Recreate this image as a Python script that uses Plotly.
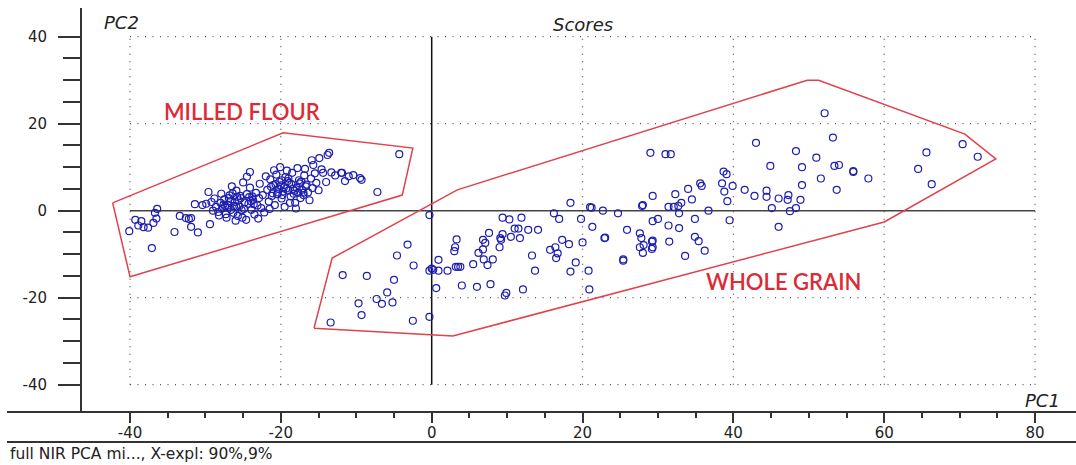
import plotly.graph_objects as go

# ---------------- data ----------------
milled_pc1 = [
    -40.1, -39.3, -38.9, -38.5, -38.2, -37.6, -37.1, -36.9, -36.7, -36.4, -36.5,
    -34.1, -33.4, -32.6, -32.2, -31.9, -31.9, -31.0, -29.4, -31.4, -30.4, -29.9,
    -29.6, -29.0, -28.6, -28.3, -28.0, -27.8, -27.5, -27.3, -27.0, -26.8, -26.6,
    -26.3, -26.1, -25.9, -25.7, -25.5, -25.3, -25.1, -24.9, -24.6, -24.5, -24.3,
    -24.1, -23.9, -23.7, -23.5, -23.3, -23.1, -22.9, -22.8, -22.6, -22.4, -22.2,
    -28.8, -27.9, -26.5, -25.0, -24.1, -24.5, -27.2, -26.0, -23.0, -29.2, -28.2, -25.8,
    -21.8, -21.6, -21.4, -21.2, -21.0, -20.8, -20.6, -20.4, -20.2, -20.1, -19.9,
    -19.8, -19.6, -19.4, -19.2, -19.0, -18.8, -18.6, -18.5, -18.3, -18.1, -17.9,
    -17.8, -17.6, -17.4, -17.2, -17.0, -16.9, -16.8, -16.6, -16.4, -16.2, -16.0,
    -15.8, -15.7, -15.5, -15.3, -20.9, -22.0, -21.5, -19.5, -18.0, -20.3, -19.1, -17.7,
    -14.9, -13.8, -13.6, -14.4, -14.0, -14.6, -13.3, -12.0, -11.9, -11.5, -11.0,
    -10.4, -9.5, -9.3, -7.2, -4.3, -15.0, -17.0, -12.8, -15.9,
    # dense cores
    -27.6, -27.1, -26.7, -26.2, -25.6, -25.2, -24.8, -24.2, -23.6, -26.9, -25.4,
    -24.0, -27.4, -25.9, -23.8, -26.4,
    -21.3, -20.7, -20.0, -19.7, -19.3, -18.9, -18.4, -17.5, -16.7, -20.5, -19.0,
    -18.2, -17.3, -21.1, -19.9, -18.7,
]
milled_pc2 = [
    -4.7, -2.1, -3.4, -2.4, -3.8, -3.9, -8.6, -2.8, -0.5, 0.4, -1.8,
    -4.9, -1.2, -1.7, -1.9, -1.7, -3.7, -5.0, -3.1, 1.5, 1.3, 1.6,
    4.3, 0.0, 0.9, -0.3, 1.8, 0.5, 2.6, -0.8, 1.2, 3.5, 0.2,
    -0.5, 2.0, 4.6, -1.2, 1.0, 2.9, -1.6, 0.4, -2.1, 3.8, 1.6,
    5.3, 0.2, 2.5, -0.9, 4.1, 1.2, 2.9, 6.2, 0.6, 3.6, -0.4,
    2.8, 3.9, 5.6, 6.5, 8.9, 7.8, -1.6, -2.3, -1.8, 2.0, -1.1, 3.2,
    4.8, 2.1, 7.2, 3.4, 5.9, 1.3, 8.3, 4.2, 6.6, 10.0, 2.8,
    3.6, 5.4, 7.7, 9.2, 4.6, 1.8, 6.1, 8.7, 3.9, 1.8, 5.3,
    9.8, 7.0, 2.9, 4.8, 3.6, 8.1, 9.6, 6.0, 4.2, 2.4, 7.4,
    5.2, 10.5, 8.6, 6.4, 9.3, 7.9, 0.4, 0.9, 0.5, 5.0, 6.8, 4.1,
    12.1, 12.8, 13.3, 8.7, 6.6, 9.5, 8.8, 8.7, 8.7, 6.8, 7.9,
    8.2, 7.5, 7.1, 4.3, 13.0, 4.7, 4.1, 8.1, 11.6,
    1.4, 0.7, 2.2, 1.1, 2.4, 0.1, 1.9, 3.1, 1.5, 2.9, 3.4,
    2.2, 1.0, 0.9, 3.3, 4.0,
    5.5, 6.1, 5.8, 4.4, 5.1, 6.4, 5.0, 6.3, 5.6, 3.8, 7.4,
    4.6, 6.7, 4.0, 7.0, 3.3,
]

whole_pc1 = [
    -0.3, -3.2, -4.6, -2.4, 0.0, -0.3, 0.2, 0.9, 0.9, 2.1, 3.2, 3.5, 3.8, 3.0, 3.1,
    3.3, 0.6, -0.3, -2.5, -5.0, -5.9, -5.2, -6.6, -7.3, -9.3, -9.7, -8.6, -11.8,
    -13.4, 4.0, 6.0, 7.8, 9.9, 9.7, 12.1, 5.5, 7.4, 8.1, 6.9, 6.2, 6.8, 7.1, 6.8,
    7.6, 9.0, 9.1, 9.2, 9.4, 9.4, 10.3, 11.9, 10.5, 11.0, 11.5, 11.7, 12.8, 14.1,
    13.3, 13.7, 15.7, 16.4, 16.7, 16.5, 17.3, 18.2, 16.2, 16.9, 18.4, 19.8, 20.0,
    19.1, 18.4, 20.8, 20.9, 21.0, 21.2, 21.3, 22.7, 22.9, 24.7, 25.4, 25.9, 27.6,
    27.8, 28.1, 27.6, 28.0, 29.3, 29.3, 28.0, 29.3, 30.0, 29.3, 29.0, 52.1, 53.2,
    43.0, 31.0, 31.7, 48.3, 51.0, 44.9, 49.1, 53.4, 54.0, 55.9, 55.9, 57.9, 51.6,
    38.7, 39.1, 38.5, 39.9, 38.8, 35.6, 35.8, 34.0, 34.5, 32.3, 33.1, 32.7, 31.4,
    32.1, 27.9, 32.8, 32.8, 31.4, 34.9, 36.7, 39.2, 39.5, 41.5, 42.8, 44.4, 44.4,
    46.0, 47.3, 47.2, 48.9, 45.1, 47.5, 48.3, 46.0, 49.1, 53.7, 65.6, 64.5, 66.3,
    70.4, 72.4, 23.0, 29.2, 29.2, 31.5, 34.9, 35.4, 25.4, 33.6, 36.2,
]
whole_pc2 = [
    -1.0, -7.8, -10.3, -12.6, -13.3, -13.8, -13.6, -11.3, -13.8, -13.8, -12.9, -12.9, -12.9, -9.3, -8.4,
    -6.6, -17.8, -24.4, -25.3, -15.9, -18.8, -21.1, -21.4, -20.3, -24.0, -21.3, -15.0, -14.8,
    -25.7, -17.2, -17.5, -16.9, -18.9, -19.5, -18.1, -12.3, -12.5, -11.2, -11.2, -9.7, -8.9, -7.4, -6.7,
    -5.1, -8.4, -6.3, -6.7, -5.4, -1.6, -2.0, -1.6, -6.0, -4.1, -4.1, -6.3, -4.4, -4.4,
    -10.3, -13.8, -9.0, -8.4, -9.8, -10.9, -6.7, -7.7, -0.6, -1.9, 1.8, -1.9, -7.3,
    -11.9, -14.0, -13.8, -18.1, 0.8, 0.7, -3.7, 0.0, -6.3, -0.6, -11.5, -4.4, -5.2,
    -6.3, -7.9, -8.4, -9.7, -6.9, -8.4, 1.3, -2.4, -1.9, 3.4, 13.3, 22.4, 16.8,
    15.6, 13.0, 13.0, 13.7, 12.2, 10.3, 10.0, 10.3, 10.5, 9.1, 8.9, 7.4, 7.4,
    9.0, 8.4, 6.3, 5.7, 4.4, 6.3, 5.7, 5.0, 2.6, 3.8, 1.8, 1.1, 0.9,
    0.9, 1.1, -0.6, -4.0, -3.4, -1.9, 0.0, 2.2, -2.2, 4.8, 3.4, 4.6, 3.2,
    2.8, 3.6, 2.5, 2.5, 0.6, -0.1, 0.6, -3.7, 5.9, 4.8, 13.4, 9.6, 6.1,
    15.3, 12.4, -6.2, -7.1, -8.8, -7.1, -6.0, -7.0, -11.2, -10.4, -9.2,
]

# class-boundary polygons (PC1, PC2)
milled_poly_pc1 = [-42.3, -19.7, -2.5, -3.9, -40.0]
milled_poly_pc2 = [1.8, 17.9, 14.4, 3.6, -15.2]
whole_poly_pc1 = [-15.6, -13.2, 3.4, 49.8, 51.3, 70.7, 74.8, 60.0, 2.8]
whole_poly_pc2 = [-27.0, -10.9, 4.8, 30.0, 30.0, 17.6, 11.9, -2.6, -28.8]

major_ticks = [-40, -20, 0, 20, 40, 60, 80]
y_major_ticks = [-40, -20, 0, 20, 40]
x_minor_ticks = [v for v in range(-35, 80, 5) if v % 20 != 0]
y_minor_ticks = [v for v in range(-35, 40, 5) if v % 20 != 0]
grid_x = [-40, -20, 20, 40, 60, 80]
grid_y = [-40, -20, 20, 40]

footer_text = "full NIR PCA mi..., X-expl: 90%,9%"

# ---------------- styles ----------------
AX = "#333333"
TXT = "#222222"
RED = "#e2404b"
BLUE = "#1e1eb0"
FONT = "DejaVu Sans, Liberation Sans, Arial, sans-serif"
XMIN, XMAX = -46.5, 85.43
YMIN, YMAX = -46.28, 46.6
GX0, GX1 = -40, 80
GY0, GY1 = -40, 40

fig = go.Figure()

fig.add_trace(go.Scatter(
    x=milled_poly_pc1 + milled_poly_pc1[:1], y=milled_poly_pc2 + milled_poly_pc2[:1],
    mode="lines", line=dict(color=RED, width=1.5), hoverinfo="skip", showlegend=False))
fig.add_trace(go.Scatter(
    x=whole_poly_pc1 + whole_poly_pc1[:1], y=whole_poly_pc2 + whole_poly_pc2[:1],
    mode="lines", line=dict(color=RED, width=1.5), hoverinfo="skip", showlegend=False))

for xs, ys in ((milled_pc1, milled_pc2), (whole_pc1, whole_pc2)):
    fig.add_trace(go.Scatter(
        x=xs, y=ys, mode="markers", showlegend=False,
        marker=dict(symbol="circle-open", size=7, color=BLUE, line=dict(width=1.2, color=BLUE))))

shapes = []
dot = dict(color="#555555", width=1.3, dash="1px,6.5px")
for gx in grid_x:
    shapes.append(dict(type="line", xref="x", yref="y", x0=gx, x1=gx, y0=GY0, y1=GY1, line=dot, layer="below"))
for gy in grid_y:
    shapes.append(dict(type="line", xref="x", yref="y", x0=GX0, x1=GX1, y0=gy, y1=gy, line=dot, layer="below"))
# zero lines
shapes.append(dict(type="line", xref="x", yref="y", x0=0, x1=0, y0=GY0, y1=GY1,
                   line=dict(color="#111111", width=1.5), layer="below"))
shapes.append(dict(type="line", xref="x", yref="y", x0=GX0, x1=GX1, y0=0, y1=0,
                   line=dict(color="#444444", width=1.5), layer="below"))
# axis frame lines
shapes.append(dict(type="line", xref="paper", yref="paper", x0=0, x1=0, y0=0, y1=1,
                   line=dict(color=AX, width=2)))
shapes.append(dict(type="line", xref="paper", yref="paper", x0=-0.0744, x1=1.0, y0=0, y1=0,
                   line=dict(color=AX, width=2)))
shapes.append(dict(type="line", xref="paper", yref="paper", x0=-0.0744, x1=1.0, y0=-0.0743, y1=-0.0743,
                   line=dict(color=AX, width=2)))

LABEL_FONT = dict(family="Lato, Open Sans, sans-serif", size=22, color="#dd2b36", weight=600)
annotations = [
    dict(text="<i>PC2</i>", xref="paper", yref="paper", x=0.0412, y=0.963, showarrow=False,
         font=dict(family=FONT, size=18, color=TXT), xanchor="center", yanchor="middle"),
    dict(text="<i>Scores</i>", xref="paper", yref="paper", x=0.5045, y=0.960, showarrow=False,
         font=dict(family=FONT, size=18, color=TXT), xanchor="center", yanchor="middle"),
    dict(text="<i>PC1</i>", xref="paper", yref="paper", x=0.9668, y=0.0297, showarrow=False,
         font=dict(family=FONT, size=18, color=TXT), xanchor="center", yanchor="middle"),
    dict(text="MILLED FLOUR", xref="x", yref="y", x=-25.2, y=22.9, showarrow=False,
         font=LABEL_FONT, xanchor="center", yanchor="middle"),
    dict(text="WHOLE GRAIN", xref="x", yref="y", x=46.6, y=-16.2, showarrow=False,
         font=LABEL_FONT, xanchor="center", yanchor="middle"),
    dict(text=footer_text, xref="paper", yref="paper", x=-0.0734, y=-0.103, showarrow=False,
         font=dict(family=FONT, size=15.5, color=TXT), xanchor="left", yanchor="middle"),
]

fig.update_layout(
    width=1076, height=465,
    margin=dict(l=81, r=0, t=8, b=53, autoexpand=False),
    paper_bgcolor="white", plot_bgcolor="white",
    showlegend=False,
    shapes=shapes, annotations=annotations,
    xaxis=dict(range=[XMIN, XMAX], tickvals=major_ticks, ticktext=[str(v) for v in major_ticks],
               ticks="outside", ticklen=10, tickwidth=1.5, tickcolor=AX, automargin=False,
               showgrid=False, zeroline=False, showline=False,
               tickfont=dict(family=FONT, size=15, color=TXT), ticklabelstandoff=-3,
               minor=dict(tickvals=x_minor_ticks, ticks="outside", ticklen=5, tickwidth=1.5,
                          tickcolor=AX, showgrid=False)),
    yaxis=dict(range=[YMIN, YMAX], tickvals=y_major_ticks, ticktext=[str(v) for v in y_major_ticks],
               ticks="outside", ticklen=22, tickwidth=1.5, tickcolor=AX, automargin=False,
               showgrid=False, zeroline=False, showline=False,
               tickfont=dict(family=FONT, size=15, color=TXT), ticklabelstandoff=8,
               minor=dict(tickvals=y_minor_ticks, ticks="outside", ticklen=17, tickwidth=1.5,
                          tickcolor=AX, showgrid=False)),
)

fig.write_html("out.html", config={"displayModeBar": False},
               post_script="document.body.style.margin='0';document.body.style.overflow='hidden';")
